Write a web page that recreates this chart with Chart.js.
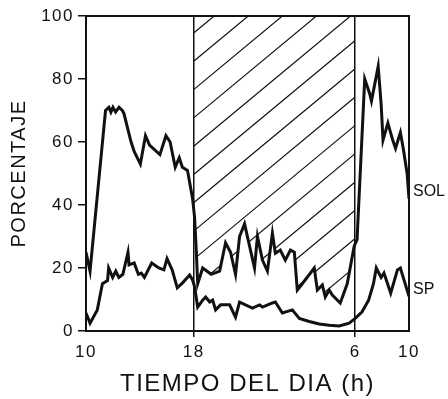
<!DOCTYPE html>
<html><head><meta charset="utf-8">
<script src="https://cdn.jsdelivr.net/npm/chart.js@4/dist/chart.umd.min.js"></script>
<style>html,body{margin:0;padding:0;background:#fff}#wrap{width:448px;height:399px;position:relative}</style>
</head><body><div id="wrap"><canvas id="c"></canvas></div>
<script>
// hours elapsed since 10:00
const solHours = [0,0.3,1.45,1.7,1.85,2.0,2.2,2.45,2.7,2.82,3.35,3.58,4.04,4.42,4.72,5.49,5.94,6.25,6.63,6.93,7.16,7.54,7.92,8.07,8.2,8.3,8.67,9.3,9.93,10.37,10.74,11.11,11.41,11.78,12.15,12.52,12.74,13.11,13.48,13.85,14.07,14.44,14.81,15.19,15.48,15.7,16.0,16.96,17.19,17.56,17.78,18.07,18.3,18.89,19.41,19.93,20.14,20.71,21.07,21.21,21.71,21.93,22.07,22.43,22.79,23.0,23.36,23.57,23.86,24];
const solValues = [25,19,70,71,69.5,71,69.5,71,70,69,60,57,53,62,59,56,62,60,52,55,52,51,42,36,25,15,20,18,19,28,25,18,30,34,27,20,30,22.5,19,31,24.7,25.7,22.5,25.7,25,13,14.6,20,13,14.6,10.8,13,11.4,8.9,15,27,29,80,75.5,73,84,72,60.6,66,60.6,58,63,58,50,42];
const spHours = [0,0.3,0.84,1.22,1.6,1.68,1.98,2.21,2.44,2.74,3.12,3.2,3.58,3.89,4.11,4.34,4.88,5.41,5.79,6.02,6.4,6.78,7.16,7.7,7.92,8.07,8.3,8.67,8.89,9.19,9.41,9.63,10.0,10.67,11.11,11.41,11.85,12.37,12.89,13.11,13.85,14.07,14.59,15.33,15.85,16.59,17.33,18.07,18.81,19.56,20,20.5,21.0,21.36,21.57,21.93,22.14,22.64,23.14,23.36,24];
const spValues = [5.7,2.5,6.7,15,16,20,17,19,17,18,25,21,21.6,18,18.4,17,21.6,20,19.4,23,19.4,13.7,15.2,17.8,16.2,14,7.6,9.8,10.8,9.2,9.8,6.7,8.3,8.3,4.4,9.2,8.3,7.3,8.3,7.6,8.9,9.2,5.7,6.7,4,3.0,2.2,1.8,1.6,2.5,4,6,9.8,15,20,17,18.4,12,19.4,20,11];
const seriesNames = ['SOL','SP'];
const xTickValues = [0,8,20,24];
const xTickLabels = ['10','18','6','10'];
const nightStart = 8, nightEnd = 20;
const yTitle = 'PORCENTAJE';
const xTitle = 'TIEMPO DEL DIA (h)';

const FONT = "'Liberation Sans', Arial, sans-serif";

const hatchPlugin = {
  id: 'hatch',
  beforeDraw(chart) { chart.ctx.letterSpacing = '1.5px'; },
  beforeDatasetsDraw(chart) {
    const ctx = chart.ctx, area = chart.chartArea;
    const xs = chart.scales.x;
    const x0 = xs.getPixelForValue(nightStart), x1 = xs.getPixelForValue(nightEnd);
    const pts = chart.getDatasetMeta(0).data;
    ctx.save();
    ctx.beginPath(); ctx.rect(x0, area.top, x1 - x0, area.bottom - area.top); ctx.clip();
    ctx.beginPath();
    pts.forEach((p, i) => i ? ctx.lineTo(p.x, p.y) : ctx.moveTo(p.x, p.y));
    ctx.lineTo(area.right, area.top); ctx.lineTo(area.left, area.top); ctx.closePath();
    ctx.clip();
    ctx.strokeStyle = '#111'; ctx.lineWidth = 1.2;
    const slope = 0.83, gap = 28.3;
    for (let k = -20; k < 30; k++) {
      const y = area.top + 17 + k * gap;
      ctx.beginPath(); ctx.moveTo(x0, y); ctx.lineTo(x1, y - slope * (x1 - x0)); ctx.stroke();
    }
    ctx.restore();
  },
  afterDatasetsDraw(chart) {
    const ctx = chart.ctx, a = chart.chartArea;
    ctx.save();
    ctx.strokeStyle = '#111'; ctx.lineWidth = 2;
    ctx.strokeRect(a.left, a.top, a.right - a.left, a.bottom - a.top);
    ctx.letterSpacing = '0px';
    ctx.fillStyle = '#111'; ctx.font = '16px ' + FONT;
    ctx.textAlign = 'left'; ctx.textBaseline = 'middle';
    chart.data.datasets.forEach((ds, i) => {
      const d = chart.getDatasetMeta(i).data;
      const p = d[d.length - 1];
      ctx.fillText(ds.label, p.x + 4, p.y - 7);
    });
    ctx.restore();
  }
};

const mk = (hs, vs) => hs.map((h, i) => ({x: h, y: vs[i]}));

new Chart(document.getElementById('c'), {
  type: 'line',
  data: {
    datasets: [
      {label: seriesNames[0], data: mk(solHours, solValues), borderColor: '#111', borderWidth: 3, pointRadius: 0, tension: 0, fill: false},
      {label: seriesNames[1], data: mk(spHours, spValues), borderColor: '#111', borderWidth: 3, pointRadius: 0, tension: 0, fill: false}
    ]
  },
  options: {
    responsive: true, maintainAspectRatio: false, animation: false, devicePixelRatio: 1,
    layout: {padding: {left: 0, right: 39, top: 16, bottom: 0}},
    plugins: {legend: {display: false}, tooltip: {enabled: false}},
    scales: {
      x: {
        type: 'linear', min: 0, max: 24,
        afterBuildTicks: s => { s.ticks = xTickValues.map(v => ({value: v})); },
        afterFit: s => { s.height = 68; },
        ticks: {callback: (v) => xTickLabels[xTickValues.indexOf(v)], color: '#111', font: {family: FONT, size: 17}, padding: 5, maxRotation: 0, autoSkip: false},
        grid: {color: c => (c.tick && (c.tick.value === nightStart || c.tick.value === nightEnd)) ? '#111' : 'rgba(0,0,0,0)', lineWidth: 1.5, tickLength: 6, drawOnChartArea: true},
        border: {display: false},
        title: {display: true, text: xTitle, color: '#111', font: {family: FONT, size: 24}, padding: {top: 0, bottom: 0}}
      },
      y: {
        min: 0, max: 100,
        afterFit: s => { s.width = 86; },
        ticks: {stepSize: 20, color: '#111', font: {family: FONT, size: 17}, padding: 4},
        grid: {drawOnChartArea: false, drawTicks: true, tickLength: 8, color: '#111', lineWidth: 1.5},
        border: {display: false},
        title: {display: true, text: yTitle, color: '#111', font: {family: FONT, size: 20}, padding: {top: 7, bottom: 0}}
      }
    }
  },
  plugins: [hatchPlugin]
});
</script></body></html>
